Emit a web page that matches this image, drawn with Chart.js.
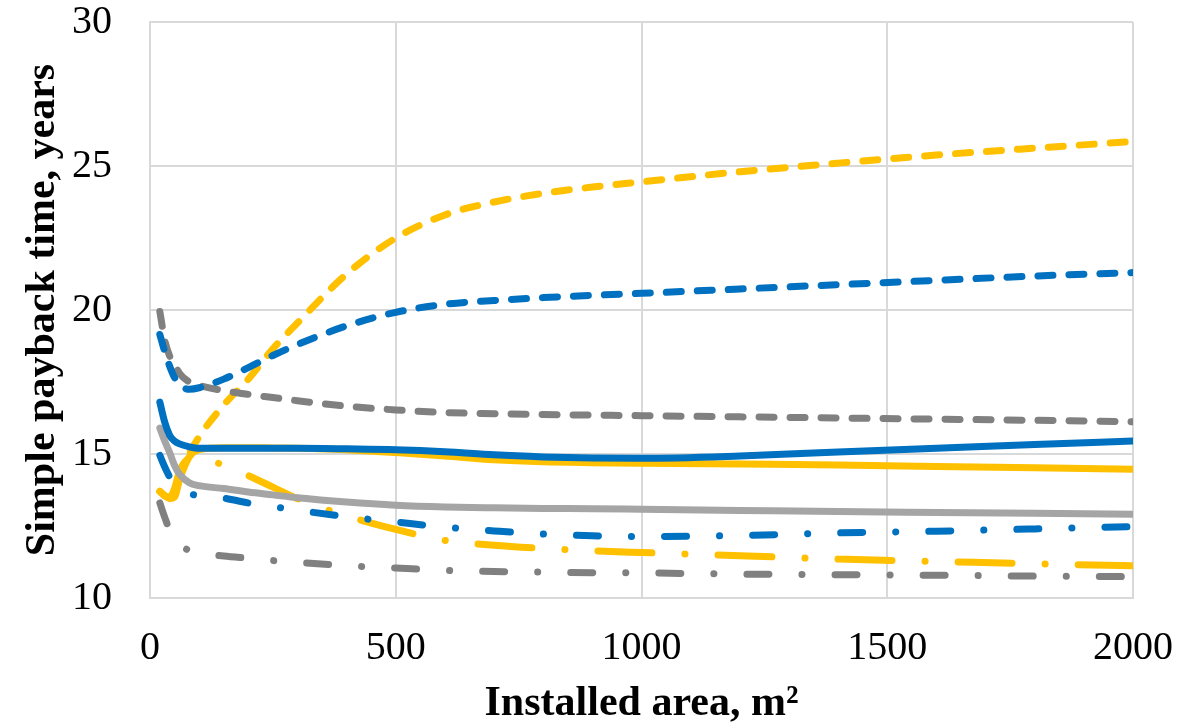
<!DOCTYPE html>
<html>
<head>
<meta charset="utf-8">
<title>Simple payback time vs installed area</title>
<script src="https://cdn.jsdelivr.net/npm/chart.js@4.4.1/dist/chart.umd.min.js"></script>
<style>
    html, body { margin: 0; padding: 0; background: #fff; }
    #wrap { width: 1190px; height: 728px; position: relative; }
</style>
</head>
<body>
<div id="wrap"><canvas id="paybackChart"></canvas></div>
<script>
// Installed area, m2
const areas = [20, 30, 40, 50, 60, 80, 100, 150, 200, 250, 300, 400, 500, 600, 700, 800, 900, 1000, 1200, 1400, 1600, 1800, 2000];

// Simple payback time, years
const blueSolid   = [16.8, 16.1, 15.65, 15.45, 15.35, 15.25, 15.2, 15.2, 15.2, 15.2, 15.2, 15.18, 15.15, 15.08, 14.97, 14.9, 14.86, 14.85, 14.93, 15.07, 15.2, 15.33, 15.45];
const blueDash    = [19.15, 18.55, 18.05, 17.65, 17.4, 17.25, 17.3, 17.6, 18.0, 18.42, 18.8, 19.45, 19.92, 20.2, 20.33, 20.43, 20.51, 20.58, 20.73, 20.88, 21.03, 21.18, 21.3];
const blueDashDot = [14.95, 14.55, 14.2, 13.9, 13.75, 13.62, 13.55, 13.47, 13.3, 13.17, 13.05, 12.82, 12.64, 12.46, 12.33, 12.22, 12.16, 12.13, 12.17, 12.26, 12.32, 12.4, 12.48];

const yellowSolid   = [13.7, 13.55, 13.45, 13.5, 14.1, 14.9, 15.15, 15.22, 15.22, 15.21, 15.2, 15.15, 15.05, 14.93, 14.8, 14.73, 14.7, 14.68, 14.65, 14.62, 14.57, 14.52, 14.47];
const yellowDash    = [13.7, 13.55, 13.5, 13.7, 14.2, 15.0, 15.6, 16.7, 17.6, 18.65, 19.55, 21.25, 22.5, 23.3, 23.75, 24.05, 24.27, 24.45, 24.8, 25.1, 25.38, 25.62, 25.85];
const yellowDashDot = [13.7, 13.55, 13.5, 13.8, 14.4, 14.85, 14.9, 14.6, 14.25, 13.85, 13.45, 12.85, 12.38, 12.0, 11.83, 11.72, 11.64, 11.58, 11.47, 11.35, 11.27, 11.19, 11.12];

const graySolid   = [15.9, 15.45, 15.05, 14.6, 14.3, 14.0, 13.9, 13.8, 13.68, 13.58, 13.48, 13.33, 13.22, 13.16, 13.13, 13.11, 13.1, 13.08, 13.04, 13.0, 12.97, 12.94, 12.91];
const grayDash    = [19.95, 18.95, 18.4, 18.1, 17.8, 17.5, 17.38, 17.2, 17.07, 16.96, 16.85, 16.66, 16.53, 16.44, 16.4, 16.37, 16.35, 16.33, 16.29, 16.25, 16.21, 16.17, 16.12];
const grayDashDot = [13.3, 12.8, 12.35, 12.05, 11.85, 11.65, 11.56, 11.46, 11.38, 11.3, 11.24, 11.12, 11.04, 10.96, 10.92, 10.9, 10.88, 10.87, 10.83, 10.81, 10.79, 10.76, 10.74];

const xTicks = [0, 500, 1000, 1500, 2000];
const yTicks = [10, 15, 20, 25, 30];

const BLUE = '#0070C0';
const YELLOW = '#FFC000';
const GRAY = '#808080';
const LIGHT_GRAY = '#A5A5A5';
const GRID = '#D9D9D9';

const DASH = [15, 16];
const DASH_DOT = [22, 33, 0.1, 33];
const LONG_DASH_DOT = [54, 33, 0.1, 33];

const serif = '"Liberation Serif", "Times New Roman", Times, serif';

function series(label, values, color, dash) {
    return {
        label: label,
        data: areas.map((a, i) => ({ x: a, y: values[i] })),
        borderColor: color,
        backgroundColor: color,
        borderWidth: 7,
        borderDash: dash,
        borderCapStyle: 'round',
        borderJoinStyle: 'round',
        pointRadius: 0,
        showLine: true,
        fill: false,
        cubicInterpolationMode: 'monotone'
    };
}

// first dataset ends up on top
const datasets = [
    series('Blue', blueSolid, BLUE, []),
    series('Gray', graySolid, LIGHT_GRAY, []),
    series('Yellow', yellowSolid, YELLOW, []),
    series('Blue dashed', blueDash, BLUE, DASH),
    series('Gray dashed', grayDash, GRAY, DASH),
    series('Yellow dashed', yellowDash, YELLOW, DASH),
    series('Blue dash-dot', blueDashDot, BLUE, DASH_DOT),
    series('Gray dash-dot', grayDashDot, GRAY, DASH_DOT),
    series('Yellow dash-dot', yellowDashDot, YELLOW, LONG_DASH_DOT)
];

// keep tick label overhang from shrinking the plot area
function noEdgePadding(scale) {
    scale.paddingTop = 0;
    scale.paddingBottom = 0;
    scale.paddingLeft = 0;
    scale.paddingRight = 0;
}

new Chart(document.getElementById('paybackChart'), {
    type: 'scatter',
    data: { datasets: datasets },
    options: {
        responsive: true,
        maintainAspectRatio: false,
        animation: false,
        layout: { padding: { top: 22, right: 57, left: 0, bottom: 0 } },
        plugins: {
            legend: { display: false },
            tooltip: { enabled: false }
        },
        scales: {
            x: {
                type: 'linear',
                min: 0,
                max: 2000,
                afterBuildTicks: scale => { scale.ticks = xTicks.map(v => ({ value: v })); },
                afterFit: scale => { scale.height = 130; noEdgePadding(scale); },
                grid: { color: GRID, lineWidth: 2, drawTicks: false },
                border: { color: GRID, width: 2 },
                ticks: {
                    color: '#000',
                    padding: 26,
                    maxRotation: 0,
                    callback: v => String(v),
                    font: { family: serif, size: 40 }
                },
                title: {
                    display: true,
                    text: 'Installed area, m²',
                    color: '#000',
                    padding: { top: 0, bottom: 3 },
                    font: { family: serif, size: 42, weight: 'bold', lineHeight: 1 }
                }
            },
            y: {
                type: 'linear',
                min: 10,
                max: 30,
                afterBuildTicks: scale => { scale.ticks = yTicks.map(v => ({ value: v })); },
                afterFit: scale => { scale.width = 150; noEdgePadding(scale); },
                grid: { color: GRID, lineWidth: 2, drawTicks: false },
                border: { color: GRID, width: 2 },
                ticks: {
                    color: '#000',
                    padding: 38,
                    callback: v => String(v),
                    font: { family: serif, size: 40 }
                },
                title: {
                    display: true,
                    text: 'Simple payback time, years',
                    color: '#000',
                    padding: { top: 22, bottom: 0 },
                    font: { family: serif, size: 42, weight: 'bold', lineHeight: 1 }
                }
            }
        }
    }
});
</script>
</body>
</html>
